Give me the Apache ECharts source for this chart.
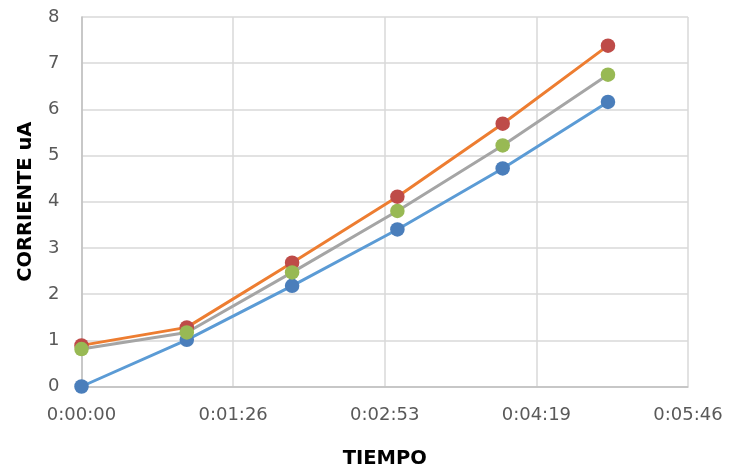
<!DOCTYPE html>
<html>
<head>
<meta charset="utf-8">
<script src="https://cdn.jsdelivr.net/npm/echarts@6/dist/echarts.min.js"></script>
<style>html,body{margin:0;padding:0;background:#fff}#c{width:730px;height:469px}</style>
</head>
<body>
<div id="c"></div>
<script>
const times = ["0:00:00", "0:01:00", "0:02:00", "0:03:00", "0:04:00", "0:05:00"];
const serie1 = [0.00, 1.01, 2.18, 3.40, 4.72, 6.16];
const serie2 = [0.89, 1.28, 2.68, 4.11, 5.69, 7.38];
const serie3 = [0.81, 1.17, 2.47, 3.80, 5.22, 6.75];
const xTickLabels = ["0:00:00", "0:01:26", "0:02:53", "0:04:19", "0:05:46"];
const yTicks = [0, 1, 2, 3, 4, 5, 6, 7, 8];

function toSec(t) { const p = t.split(":").map(Number); return p[0] * 3600 + p[1] * 60 + p[2]; }
const xs = times.map(toSec);
const tickStep = 86.4; // 0.001 day
function pair(vals) { return vals.map((v, i) => [xs[i], v]); }

const chart = echarts.init(document.getElementById('c'));
const labelFont = { fontFamily: 'DejaVu Sans', fontSize: 18, color: '#595959' };
function mk(name, data, lineColor, markColor) {
  return {
    name, type: 'line', data: pair(data),
    symbol: 'circle', symbolSize: 14.5,
    lineStyle: { color: lineColor, width: 3 },
    itemStyle: { color: markColor },
    emphasis: { disabled: true },
    animation: false
  };
}
chart.setOption({
  animation: false,
  grid: { left: 81.5, right: 42, top: 17, bottom: 82.5, containLabel: false, outerBoundsMode: 'none' },
  xAxis: {
    type: 'value', min: 0, max: tickStep * 4, interval: tickStep,
    name: 'TIEMPO', nameLocation: 'middle', nameGap: 62,
    nameTextStyle: { fontFamily: 'DejaVu Sans', fontWeight: 'bold', fontSize: 19.5, color: '#000' },
    axisLine: { show: true, lineStyle: { color: '#bfbfbf', width: 1.5 } },
    axisTick: { show: false },
    splitLine: { show: true, lineStyle: { color: '#d9d9d9', width: 1.5 } },
    axisLabel: Object.assign({ margin: 20, formatter: (v) => xTickLabels[Math.round(v / tickStep)] }, labelFont)
  },
  yAxis: {
    type: 'value', min: yTicks[0], max: yTicks[yTicks.length - 1], interval: 1,
    name: 'CORRIENTE uA', nameLocation: 'middle', nameGap: 46,
    nameTextStyle: { fontFamily: 'DejaVu Sans', fontWeight: 'bold', fontSize: 19.5, color: '#000' },
    axisLine: { show: true, lineStyle: { color: '#bfbfbf', width: 1.5 } },
    axisTick: { show: false },
    splitLine: { show: true, lineStyle: { color: '#d9d9d9', width: 1.5 } },
    axisLabel: Object.assign({ margin: 22 }, labelFont)
  },
  series: [
    mk('Serie1', serie1, '#5B9BD5', '#4A7EBB'),
    mk('Serie2', serie2, '#ED7D31', '#BE4B48'),
    mk('Serie3', serie3, '#A5A5A5', '#98B954')
  ]
});
</script>
</body>
</html>
